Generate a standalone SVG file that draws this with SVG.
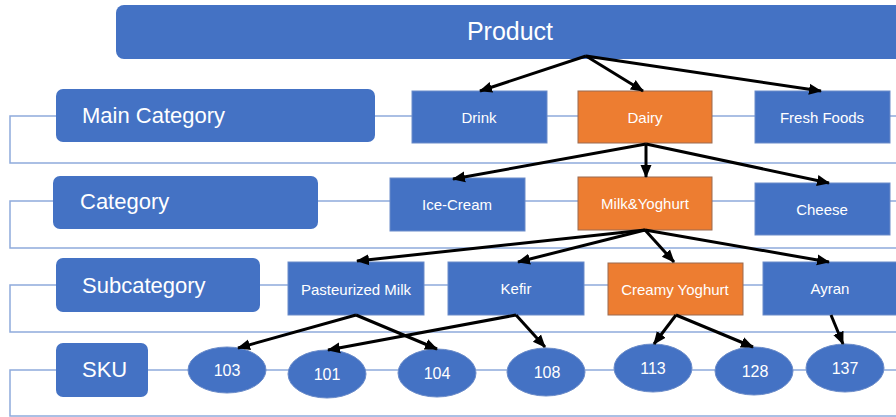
<svg xmlns="http://www.w3.org/2000/svg" width="896" height="417" viewBox="0 0 896 417">
<style>
.lvl{fill:#4472C4}
.b{fill:#4472C4;stroke:#6A8BC9;stroke-width:1}
.o{fill:#ED7D31;stroke:#9A6B50;stroke-width:1}
.row{fill:none;stroke:#8FAADC;stroke-width:1.5}
.t{font-family:"Liberation Sans",Arial,sans-serif;fill:#fff;text-anchor:middle}
.lt{font-family:"Liberation Sans",Arial,sans-serif;fill:#fff;font-size:22px}
.n{font-size:15px}
.k{font-size:16px}
.arr{stroke:#000;stroke-width:3;fill:none;marker-end:url(#ah)}
</style>
<defs>
<marker id="ah" markerUnits="userSpaceOnUse" markerWidth="14" markerHeight="14" viewBox="0 0 14 14" refX="12" refY="7" orient="auto">
<path d="M0,1.5 L13,7 L0,12.5 Z" fill="#000"/>
</marker>
</defs>
<rect width="896" height="417" fill="#fff"/>

<g id="row-lines">
<path class="row" d="M56,116 H10 V163 H896 M375,116 H896"/>
<path class="row" d="M53,201 H10 V248 H896 M318,201 H896"/>
<path class="row" d="M56,285 H10 V332 H896 M260,285 H896"/>
<path class="row" d="M56,370 H10 V416 H896 M148,370 H896"/>
</g>

<g id="product">
<rect class="lvl" x="116" y="5" width="800" height="54" rx="8"/>
<text class="t" x="510" y="40" font-size="25">Product</text>
</g>

<g id="lbl-main"><rect class="lvl" x="56" y="89" width="319" height="53" rx="7"/><text class="lt" x="82" y="123">Main Category</text></g>
<g id="lbl-category"><rect class="lvl" x="53" y="176" width="265" height="53" rx="7"/><text class="lt" x="80" y="209">Category</text></g>
<g id="lbl-sub"><rect class="lvl" x="56" y="258" width="204" height="54" rx="7"/><text class="lt" x="82" y="293">Subcategory</text></g>
<g id="lbl-sku"><rect class="lvl" x="56" y="343" width="92" height="54" rx="7"/><text class="lt" x="82" y="377">SKU</text></g>

<g id="drink"><rect class="b" x="412" y="91" width="135" height="52"/><text class="t n" x="479" y="123">Drink</text></g>
<g id="dairy"><rect class="o" x="578" y="91" width="134" height="52"/><text class="t n" x="645" y="123">Dairy</text></g>
<g id="fresh-foods"><rect class="b" x="755" y="91" width="135" height="52"/><text class="t n" x="822" y="123">Fresh Foods</text></g>

<g id="ice-cream"><rect class="b" x="390" y="178" width="135" height="53"/><text class="t n" x="457" y="210">Ice-Cream</text></g>
<g id="milk-yoghurt"><rect class="o" x="578" y="177" width="134" height="53"/><text class="t n" x="645" y="209">Milk&amp;Yoghurt</text></g>
<g id="cheese"><rect class="b" x="755" y="183" width="135" height="52"/><text class="t n" x="822" y="215">Cheese</text></g>

<g id="pasteurized-milk"><rect class="b" x="288" y="262" width="136" height="53"/><text class="t n" x="356" y="295">Pasteurized Milk</text></g>
<g id="kefir"><rect class="b" x="448" y="262" width="136" height="53"/><text class="t n" x="516" y="294">Kefir</text></g>
<g id="creamy-yoghurt"><rect class="o" x="608" y="263" width="135" height="52"/><text class="t n" x="675" y="295">Creamy Yoghurt</text></g>
<g id="ayran"><rect class="b" x="763" y="262" width="140" height="53"/><text class="t n" x="830" y="294">Ayran</text></g>

<g id="sku-103"><ellipse class="b" cx="227" cy="370" rx="39" ry="23"/><text class="t k" x="227" y="376">103</text></g>
<g id="sku-101"><ellipse class="b" cx="327" cy="374" rx="39" ry="24"/><text class="t k" x="327" y="380">101</text></g>
<g id="sku-104"><ellipse class="b" cx="437" cy="373" rx="39" ry="24"/><text class="t k" x="437" y="379">104</text></g>
<g id="sku-108"><ellipse class="b" cx="546" cy="372" rx="39" ry="24"/><text class="t k" x="547" y="378">108</text></g>
<g id="sku-113"><ellipse class="b" cx="653" cy="368" rx="39" ry="24"/><text class="t k" x="653" y="374">113</text></g>
<g id="sku-128"><ellipse class="b" cx="754" cy="371" rx="39" ry="24"/><text class="t k" x="755" y="377">128</text></g>
<g id="sku-137"><ellipse class="b" cx="845" cy="368" rx="39" ry="24"/><text class="t k" x="845" y="374">137</text></g>

<g id="connectors">
<line class="arr" x1="586" y1="56" x2="480" y2="91"/>
<line class="arr" x1="586" y1="56" x2="643" y2="91"/>
<line class="arr" x1="586" y1="56" x2="821" y2="91"/>
<line class="arr" x1="646" y1="144" x2="453" y2="179"/>
<line class="arr" x1="646" y1="144" x2="646" y2="177"/>
<line class="arr" x1="646" y1="144" x2="829" y2="183"/>
<line class="arr" x1="645" y1="230" x2="357" y2="261"/>
<line class="arr" x1="645" y1="230" x2="518" y2="262"/>
<line class="arr" x1="645" y1="230" x2="674" y2="262"/>
<line class="arr" x1="645" y1="230" x2="829" y2="262"/>
<line class="arr" x1="356" y1="315" x2="238" y2="348"/>
<line class="arr" x1="356" y1="315" x2="437" y2="349"/>
<line class="arr" x1="516" y1="315" x2="328" y2="350"/>
<line class="arr" x1="516" y1="315" x2="545" y2="347"/>
<line class="arr" x1="676" y1="315" x2="654" y2="344"/>
<line class="arr" x1="676" y1="315" x2="753" y2="347"/>
<line class="arr" x1="831" y1="315" x2="843" y2="344"/>
</g>
</svg>
